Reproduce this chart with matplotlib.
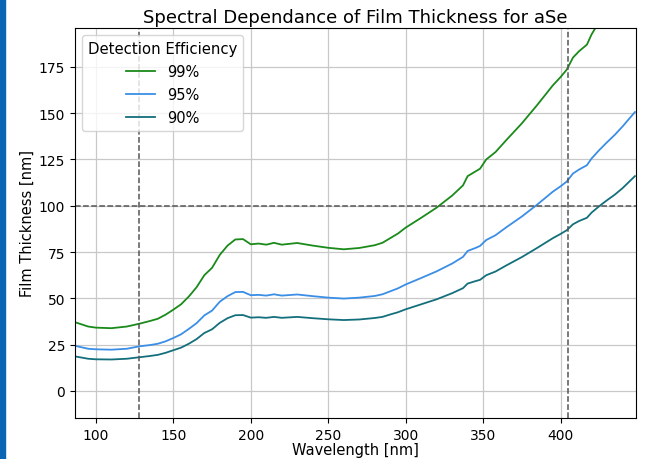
import matplotlib
matplotlib.use("Agg")
import matplotlib.pyplot as plt
from matplotlib.patches import Rectangle

wavelength = [87, 95, 100, 110, 120, 128, 135, 140, 145, 150, 155, 160, 165, 170, 175,
              180, 185, 190, 195, 200, 205, 210, 215, 220, 230, 240, 250, 260, 270, 280,
              285, 290, 295, 300, 310, 320, 330, 337, 340, 345, 348, 352, 358, 365, 375,
              385, 395, 400, 404, 408, 412, 417, 420, 425, 430, 435, 440, 448]

eff_99 = [37.0, 34.8, 34.2, 33.9, 34.8, 36.3, 37.8, 39.0, 41.2, 43.9, 46.8, 51.0, 56.0, 62.5, 66.5,
          73.5, 78.5, 81.8, 82.0, 79.2, 79.6, 79.0, 80.0, 79.0, 79.9, 78.5, 77.3, 76.5, 77.2, 78.7,
          80.0, 82.5, 85.0, 88.2, 93.5, 99.0, 105.5, 111.0, 116.0, 118.5, 120.0, 125.0, 129.0, 135.5, 144.5,
          154.5, 165.0, 169.5, 173.5, 180.0, 183.5, 187.0, 192.5, 199.5, 206.0, 212.0, 219.0, 231.0]

eff_95 = [24.3, 22.8, 22.5, 22.3, 22.8, 24.1, 24.8, 25.5, 26.8, 28.6, 30.6, 33.5, 36.6, 40.8, 43.4,
          48.2, 51.2, 53.4, 53.5, 51.7, 51.9, 51.5, 52.2, 51.5, 52.1, 51.2, 50.4, 49.9, 50.4, 51.3,
          52.2, 53.8, 55.4, 57.5, 61.0, 64.6, 68.8, 72.4, 75.6, 77.2, 78.3, 81.5, 84.1, 88.4, 94.2,
          100.7, 107.6, 110.5, 113.1, 117.4, 119.6, 121.9, 125.5, 130.1, 134.3, 138.3, 142.8, 150.6]

eff_90 = [18.6, 17.4, 17.1, 17.0, 17.4, 18.2, 18.9, 19.5, 20.6, 22.0, 23.4, 25.5, 28.0, 31.3, 33.3,
          36.8, 39.3, 40.9, 41.0, 39.6, 39.8, 39.5, 40.0, 39.5, 40.0, 39.3, 38.7, 38.3, 38.6, 39.4,
          40.0, 41.3, 42.5, 44.1, 46.8, 49.5, 52.8, 55.5, 58.0, 59.3, 60.0, 62.5, 64.5, 67.8, 72.3,
          77.3, 82.5, 84.8, 86.8, 90.0, 91.8, 93.5, 96.3, 99.8, 103.0, 106.0, 109.5, 116.0]

labels = ["99%", "95%", "90%"]
colors = ["#1a8a1a", "#3a8ee6", "#136f7c"]
ref_wavelengths = [128, 405]
ref_thickness = 100

fig = plt.figure(figsize=(6.48, 4.60), dpi=100)
ax = fig.add_axes([0.1157, 0.0891, 0.981 - 0.1157, 0.937 - 0.0891])

for vals, lab, col in zip([eff_99, eff_95, eff_90], labels, colors):
    ax.plot(wavelength, vals, color=col, lw=1.3, label=lab)

for xv in ref_wavelengths:
    ax.axvline(xv, color="#555555", ls="--", lw=1.1)
ax.axhline(ref_thickness, color="#555555", ls="--", lw=1.1)

ax.set_xlim(86.5, 448.5)
ax.set_ylim(-14.6, 196)
ax.set_xticks([100, 150, 200, 250, 300, 350, 400])
ax.set_yticks([0, 25, 50, 75, 100, 125, 150, 175])
ax.grid(True, color="#c8c8c8", lw=0.9)
ax.set_axisbelow(True)
ax.tick_params(labelsize=10)

ax.set_xlabel("Wavelength [nm]", fontsize=10.5, labelpad=0.5)
ax.set_ylabel("Film Thickness [nm]", fontsize=10.5, labelpad=3)
ax.set_title("Spectral Dependance of Film Thickness for aSe", fontsize=13, pad=4)

leg = ax.legend(title="Detection Efficiency", loc="upper left", fontsize=10.5,
                title_fontsize=10.7, labelspacing=0.55)

fig.patches.append(Rectangle((0, 0), 4.5 / 648, 1, transform=fig.transFigure,
                             color="#0a64b4", zorder=10))

fig.savefig("out.png", dpi=100)
